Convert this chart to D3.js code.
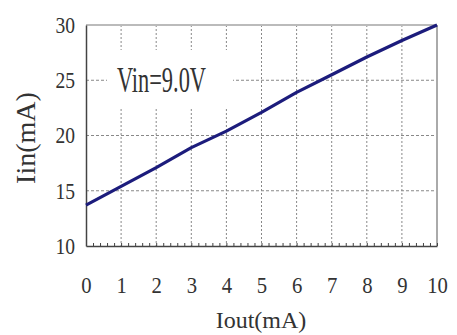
<!DOCTYPE html>
<html>
<head>
<meta charset="utf-8">
<script src="https://cdn.jsdelivr.net/npm/d3@7"></script>
<style>
  body { margin: 0; background: #fff; }
</style>
</head>
<body>
<div id="chart"></div>
<script>
const iout = [0, 1, 2, 3, 4, 5, 6, 7, 8, 9, 10];
const iin = [13.7, 15.4, 17.1, 18.9, 20.4, 22.1, 23.9, 25.5, 27.1, 28.6, 30.0];
const yTicks = [10, 15, 20, 25, 30];
const xTicks = [0, 1, 2, 3, 4, 5, 6, 7, 8, 9, 10];

const serif = '"Liberation Serif", "Times New Roman", serif';
const width = 457, height = 335;
const margin = { top: 25, right: 20, bottom: 89, left: 86 };
const w = width - margin.left - margin.right,
  h = height - margin.top - margin.bottom;

const svg = d3.select('#chart').append('svg')
  .attr('width', width).attr('height', height);
const g = svg.append('g')
  .attr('transform', `translate(${margin.left},${margin.top})`);

const x = d3.scaleLinear().domain([0, 10]).range([0, w]);
const y = d3.scaleLinear().domain([10, 30]).range([h, 0]);

// grid
g.append('g').selectAll('line').data(xTicks.slice(1, -1)).join('line')
  .attr('x1', d => x(d)).attr('x2', d => x(d))
  .attr('y1', 0).attr('y2', h)
  .attr('stroke', '#888').attr('stroke-dasharray', '2,2');
g.append('g').selectAll('line').data(yTicks.slice(1, -1)).join('line')
  .attr('y1', d => y(d)).attr('y2', d => y(d))
  .attr('x1', 0).attr('x2', w)
  .attr('stroke', '#888').attr('stroke-dasharray', '3,2');

// frame: top + right light, left + bottom dark
g.append('line').attr('x1', 0).attr('x2', w).attr('y1', 0).attr('y2', 0)
  .attr('stroke', '#bbb').attr('stroke-width', 2);
g.append('line').attr('x1', w).attr('x2', w).attr('y1', 0).attr('y2', h)
  .attr('stroke', '#aaa').attr('stroke-width', 2);

// label box
g.append('rect').attr('x', 21).attr('y', 25).attr('width', 126).attr('height', 57)
  .attr('fill', '#fff');
g.append('text').attr('x', 31).attr('y', 67)
  .style('font-family', serif).style('font-size', '35px').attr('fill', '#333')
  .attr('transform', 'translate(31,0) scale(0.64,1) translate(-31,0)')
  .text('Vin=9.0V');

// axes
const yAxis = g.append('g')
  .call(d3.axisLeft(y).tickValues(yTicks).tickSize(0).tickPadding(13));
yAxis.select('.domain').attr('stroke', '#444').attr('stroke-width', 1.5);
yAxis.selectAll('text').style('font-family', serif).style('font-size', '23px')
  .attr('fill', '#333').attr('transform', 'scale(0.85,1)');

const xAxis = g.append('g').attr('transform', `translate(0,${h})`)
  .call(d3.axisBottom(x).tickValues(xTicks).tickSize(0));
xAxis.select('.domain').attr('stroke', '#444').attr('stroke-width', 1.5);
xAxis.selectAll('.tick text').attr('y', 47).attr('dy', 0)
  .style('font-family', serif).style('font-size', '23px')
  .attr('fill', '#333').attr('transform', 'scale(0.9,1)');
// scaleX moves the label anchor, so put it back on the tick
xAxis.selectAll('.tick text').attr('x', 0);

// minor ticks along the bottom
g.append('g').attr('transform', `translate(0,${h})`)
  .call(d3.axisTop(x).ticks(50).tickSize(3).tickFormat(''))
  .call(a => a.select('.domain').remove())
  .selectAll('line').attr('stroke', '#444');

// curve
const line = d3.line().x((d, i) => x(iout[i])).y(d => y(d));
g.append('path').datum(iin)
  .attr('fill', 'none').attr('stroke', '#1c1c7c').attr('stroke-width', 3.2)
  .attr('stroke-linejoin', 'round')
  .attr('d', line);

// axis titles
svg.append('text').attr('x', 261).attr('y', 328)
  .attr('text-anchor', 'middle')
  .style('font-family', serif).style('font-size', '24px').attr('fill', '#333')
  .text('Iout(mA)');
svg.append('text')
  .attr('transform', 'translate(35,138) rotate(-90)')
  .attr('text-anchor', 'middle')
  .style('font-family', serif).style('font-size', '28px').attr('fill', '#333')
  .text('Iin(mA)');
</script>
</body>
</html>
